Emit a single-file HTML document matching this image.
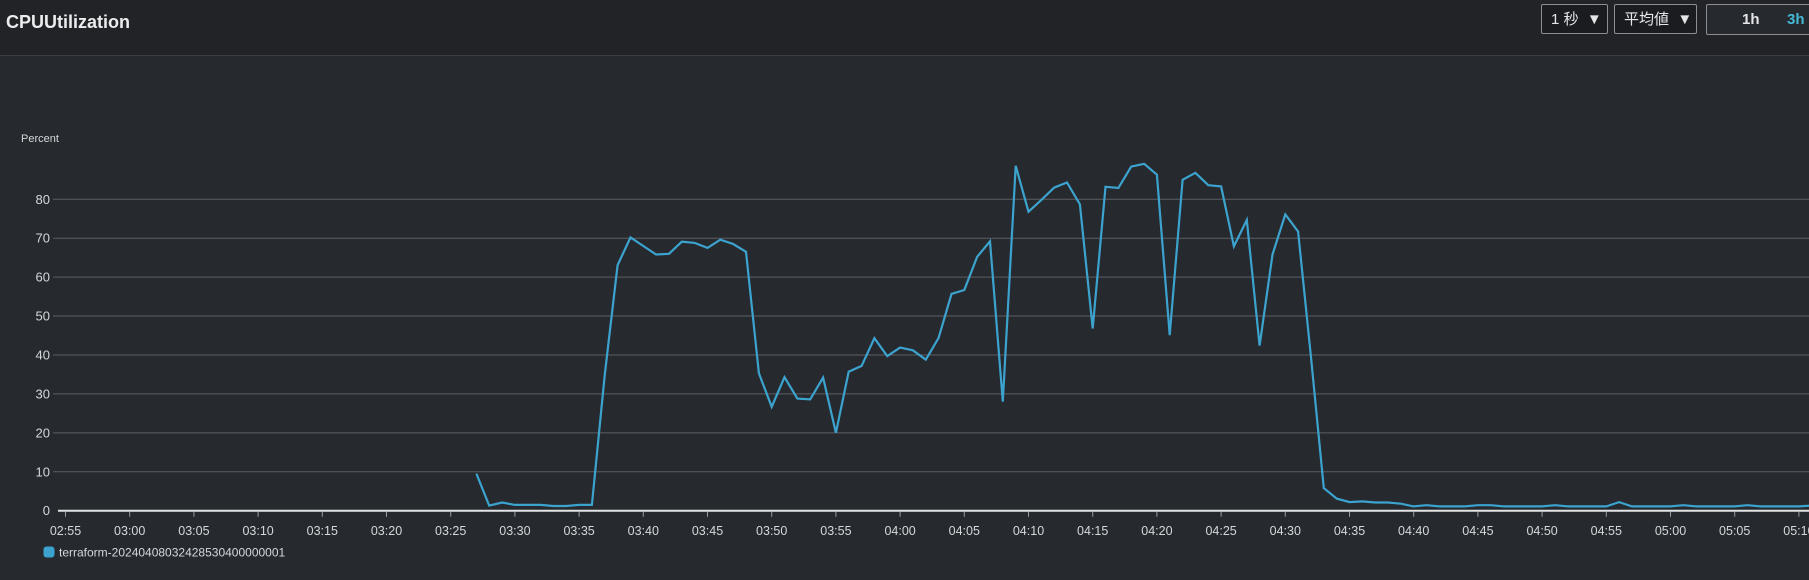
<!DOCTYPE html>
<html><head><meta charset="utf-8"><style>
html,body{margin:0;padding:0;width:1809px;height:580px;overflow:hidden;background:#26292e;font-family:"Liberation Sans","Noto Sans CJK JP",sans-serif;}
#hdr{position:absolute;left:0;top:0;width:1809px;height:55px;background:#212327;border-bottom:1px solid #3a3e43;}
#title{position:absolute;left:6px;top:12px;font-size:18px;font-weight:bold;color:#eaeced;}
.btn{position:absolute;top:4px;height:30px;border:1px solid #8a8f95;border-radius:2px;background:#1a1c20;color:#e4e6e8;font-size:15px;line-height:30px;box-sizing:border-box;padding-left:9px;}
#tr{position:absolute;left:1706px;top:4px;width:120px;height:31px;border:1px solid #8a8f95;border-radius:2px;background:#26292e;box-sizing:border-box;color:#e4e6e8;font-size:15px;font-weight:bold;}
svg{position:absolute;left:0;top:0;}
</style></head><body>
<div id="hdr">
<div id="title">CPUUtilization</div>
<div class="btn" style="left:1541px;width:67px">1 秒 &nbsp;▼</div>
<div class="btn" style="left:1614px;width:83px">平均値 &nbsp;▼</div>
<div id="tr">
<span style="position:absolute;left:35px;top:6px">1h</span>
<span style="position:absolute;left:80px;top:6px;color:#44b9d6">3h</span>
</div>
</div>
<svg id="chart" width="1809" height="580"></svg>
<script>
const yTicks=[0,10,20,30,40,50,60,70,80];
const xTickLabels=["02:55","03:00","03:05","03:10","03:15","03:20","03:25","03:30","03:35","03:40","03:45","03:50","03:55","04:00","04:05","04:10","04:15","04:20","04:25","04:30","04:35","04:40","04:45","04:50","04:55","05:00","05:05","05:10"];
const xTickMinutes=[-5,0,5,10,15,20,25,30,35,40,45,50,55,60,65,70,75,80,85,90,95,100,105,110,115,120,125,130];
const startMinute=27;
const cpuValues=[9.5,1.3,2.1,1.5,1.5,1.5,1.2,1.2,1.5,1.5,35,63.1,70.2,68.0,65.8,66.0,69.1,68.8,67.5,69.6,68.5,66.5,35.3,26.7,34.3,28.8,28.6,34.2,20.0,35.7,37.2,44.3,39.7,41.9,41.2,38.8,44.4,55.7,56.7,65.2,69.2,28.0,88.6,76.8,79.8,83.0,84.3,78.7,46.8,83.2,82.9,88.4,89.1,86.3,45.1,85,86.8,83.6,83.3,67.9,74.7,42.4,65.8,76.1,71.7,39.4,5.8,3.1,2.2,2.4,2.1,2.1,1.8,1.1,1.4,1.1,1.1,1.1,1.4,1.4,1.1,1.1,1.1,1.1,1.4,1.1,1.1,1.1,1.1,2.2,1.1,1.1,1.1,1.1,1.4,1.1,1.1,1.1,1.1,1.4,1.1,1.1,1.1,1.1,1.3,1.3,1.3];
const NS='http://www.w3.org/2000/svg';
const svg=document.getElementById('chart');
const X=m=>129.7+m*12.84;
const Y=v=>510.7-v*3.893;
function mk(t,a){const e=document.createElementNS(NS,t);for(const k in a)e.setAttribute(k,a[k]);svg.appendChild(e);return e;}
const pl=mk('text',{x:21,y:142,fill:'#d5d8db','font-size':11});
pl.textContent='Percent';


yTicks.forEach(v=>{
  if(v>0){const g=mk('line',{x1:53,x2:1809,y1:Y(v),y2:Y(v),stroke:'#5c5f64','stroke-width':1});
  
  }
  const t=mk('text',{x:50,y:Y(v)+4.5,fill:'#d5d8db','font-size':13,'text-anchor':'end'});
  t.textContent=v;
  
  
});
const base=mk('line',{x1:58,x2:1809,y1:Y(0),y2:Y(0),stroke:'#e2e4e6','stroke-width':2});


xTickMinutes.forEach((m,i)=>{
  const tk=mk('line',{x1:X(m),x2:X(m),y1:Y(0)+1,y2:Y(0)+6,stroke:'#9a9da1','stroke-width':1});
  
  
  const t=mk('text',{x:X(m),y:535,fill:'#d5d8db','font-size':12.5,'text-anchor':'middle'});
  t.textContent=xTickLabels[i];
  
  
});
const pts=cpuValues.map((v,i)=>X(startMinute+i).toFixed(1)+','+Y(v).toFixed(1)).join(' ');
const line=mk('polyline',{points:pts,fill:'none',stroke:'#3ca3cf','stroke-width':2.2,'stroke-linejoin':'miter'});


const sw=mk('rect',{x:43.5,y:546.5,width:11,height:11,rx:3,fill:'#3ca3cf'});


const lt=mk('text',{x:59,y:556.5,fill:'#d5d8db','font-size':12});
lt.textContent='terraform-20240408032428530400000001';


</script>
</body></html>
